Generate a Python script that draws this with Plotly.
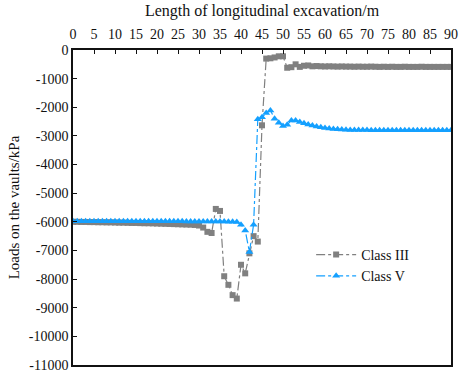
import plotly.graph_objects as go

# Longitudinal excavation length (m)
length_m = list(range(0, 91))

# Vault loads for Class III surrounding rock (kPa)
class_iii = [
    -6000, -6000, -6005, -6005, -6010, -6010, -6015, -6015, -6020, -6020,
    -6025, -6030, -6030, -6035, -6040, -6040, -6045, -6050, -6050, -6055,
    -6060, -6065, -6070, -6075, -6080, -6085, -6090, -6095, -6100, -6110,
    -6130, -6200, -6350, -6390, -5550, -5620, -7900, -8200, -8560, -8680,
    -7500, -7800, -7100, -6500, -6690, -2630, -300, -290, -260, -220,
    -220, -620, -600, -500, -590, -550, -540, -570, -560, -570,
    -575, -570, -575, -580, -575, -580, -580, -585, -580, -585,
    -585, -580, -585, -590, -585, -590, -585, -590, -590, -585,
    -590, -590, -590, -585, -590, -590, -590, -590, -590, -590,
    -590,
]

# Vault loads for Class V surrounding rock (kPa)
class_v = [
    -5980, -5980, -5980, -5980, -5980, -5980, -5980, -5980, -5980, -5980,
    -5980, -5980, -5980, -5980, -5980, -5980, -5980, -5980, -5980, -5980,
    -5980, -5980, -5980, -5980, -5980, -5980, -5980, -5985, -5985, -5985,
    -5985, -5985, -5985, -5990, -5990, -5990, -5990, -5995, -6000, -6010,
    -6100, -6300, -7050, -6100, -2420, -2350, -2200, -2110, -2400, -2540,
    -2650, -2610, -2460, -2460, -2510, -2560, -2600, -2640, -2670, -2700,
    -2720, -2740, -2760, -2770, -2780, -2785, -2790, -2790, -2795, -2795,
    -2795, -2800, -2800, -2800, -2800, -2800, -2800, -2800, -2800, -2800,
    -2800, -2800, -2800, -2800, -2800, -2800, -2800, -2800, -2800, -2800,
    -2800,
]

x_ticks = list(range(0, 91, 5))
y_ticks = list(range(-11000, 1, 1000))
y_tick_text = [str(v) for v in y_ticks]

GRAY = "#808080"
BLUE = "#14a0ff"
FONT = "Liberation Serif, Times New Roman, serif"

fig = go.Figure()
fig.add_trace(go.Scatter(
    x=length_m, y=class_iii, name="Class III", mode="lines+markers",
    line=dict(color=GRAY, width=1.2, dash="dashdot"),
    marker=dict(symbol="square", size=6, color=GRAY),
))
fig.add_trace(go.Scatter(
    x=length_m, y=class_v, name="Class V", mode="lines+markers",
    line=dict(color=BLUE, width=1.2, dash="dashdot"),
    marker=dict(symbol="triangle-up", size=7, color=BLUE),
))

fig.update_layout(
    width=465, height=380,
    margin=dict(l=73, r=7, t=50, b=9),
    paper_bgcolor="white", plot_bgcolor="white",
    font=dict(family=FONT, size=14, color="#111"),
    legend=dict(
        x=0.63, y=0.40, xanchor="left", yanchor="top",
        bgcolor="rgba(0,0,0,0)", font=dict(size=14, family=FONT),
        itemwidth=40, tracegroupgap=0,
    ),
    xaxis=dict(
        side="top", range=[0, 90], tickvals=x_ticks,
        ticks="inside", ticklen=4, tickwidth=1, tickcolor="#111",
        ticklabelstandoff=4,
        showline=True, linecolor="#111", linewidth=1.5, mirror=True,
        showgrid=False, zeroline=False,
        title=dict(text="Length of longitudinal excavation/m",
                   font=dict(size=16, family=FONT), standoff=6),
    ),
    yaxis=dict(
        range=[-11000, 0], tickvals=y_ticks, ticktext=y_tick_text,
        ticks="inside", ticklen=4, tickwidth=1, tickcolor="#111",
        showline=True, linecolor="#111", linewidth=1.5, mirror=True,
        showgrid=False, zeroline=False,
        title=dict(text="Loads on the vaults/kPa",
                   font=dict(size=15, family=FONT), standoff=6),
    ),
)

fig.write_html("out.html")
